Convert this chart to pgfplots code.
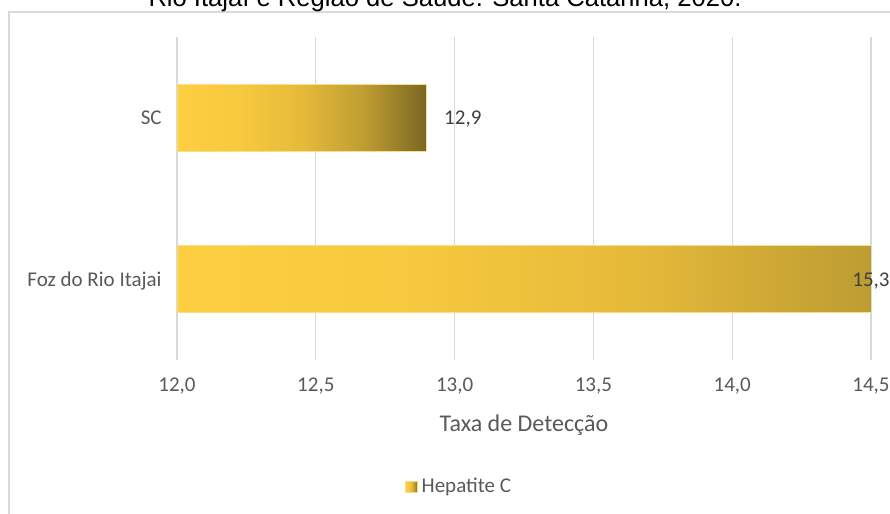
\documentclass[border=0pt]{standalone}
\usepackage{pgfplots}
\pgfplotsset{compat=1.18}
\usepackage{fontspec}
\setmainfont{Carlito}
\newfontfamily\arialfont{Liberation Sans}
\definecolor{txt}{RGB}{89,89,89}
\definecolor{lab}{RGB}{64,64,64}
\definecolor{barA}{RGB}{253,206,64}
\definecolor{barB}{RGB}{247,201,62}
\definecolor{barC}{RGB}{230,186,58}
\definecolor{barD}{RGB}{190,157,50}
\definecolor{barE}{RGB}{122,102,34}
\definecolor{gridc}{RGB}{217,217,217}
\definecolor{edge}{RGB}{246,222,140}
\pgfdeclarehorizontalshading{barshade}{100bp}{color(0bp)=(barA); color(25bp)=(barA); color(37.5bp)=(barB); color(50bp)=(barC); color(62.5bp)=(barD); color(75bp)=(barE); color(100bp)=(barE)}

\begin{document}
\begin{tikzpicture}
\draw[gridc, line width=0.6pt] (4.5pt,-6pt) rectangle (452.5pt,-265pt);
\node[anchor=base, font=\arialfont\fontsize{12.8}{14}\selectfont, text=black, inner sep=0pt] at (222.5pt,-3.2pt) {Rio Itajaí e Região de Saúde. Santa Catarina, 2020.};
\begin{axis}[
  at={(88.5pt,-180pt)}, anchor=south west,
  scale only axis, width=347pt, height=161.5pt,
  xmin=12, xmax=14.5, ymin=-0.5, ymax=1.5,
  xtick={12,12.5,13,13.5,14,14.5},
  ytick={0,1},
  yticklabels={Foz do Rio Itajai, SC},
  xmajorgrids, major grid style={gridc, line width=0.6pt},
  axis line style={draw=none},
  tick style={draw=none},
  clip mode=individual,
  /pgf/number format/.cd, use comma, fixed, fixed zerofill, precision=1, 1000 sep={}, assume math mode=true,
  /pgfplots/.cd,
  ticklabel style={font=\fontsize{10.5}{12}\selectfont, text=txt},
  xticklabel style={anchor=base, inner sep=0pt, yshift=-15.8pt},
  yticklabel style={anchor=base east, inner sep=0pt, xshift=-7.5pt, yshift=-3.4pt},
  xlabel={Taxa de Detecção},
  xlabel style={at={(axis description cs:0.5,0)}, anchor=base, inner sep=0pt, yshift=-35.8pt, font=\fontsize{12}{14}\selectfont, text=txt},
  legend style={draw=none, fill=none, font=\fontsize{10.5}{12}\selectfont, text=txt,
    at={(axis description cs:0.408,-0.393)}, anchor=center, inner sep=1pt},
  legend image code/.code={\shade[shading=barshade, shading angle=0] (0pt,-2.9pt) rectangle (5.8pt,2.9pt);},
]
\addplot[xbar, bar width=33.5pt, bar shift=0pt, shade, shading=barshade, shading angle=0, draw=edge, line width=0.4pt]
  coordinates {(12.9,1)};
\addlegendentry{Hepatite C}
\addplot[xbar, bar width=33.5pt, bar shift=0pt, shade, shading=barshade, shading angle=0, draw=edge, line width=0.4pt, forget plot]
  coordinates {(15.3,0)};
\node[anchor=base west, inner sep=0pt, xshift=8.5pt, yshift=-3.4pt, text=lab, font=\fontsize{10.5}{12}\selectfont] at (axis cs:12.9,1) {12,9};
\node[anchor=base west, inner sep=0pt, xshift=-9.5pt, yshift=-3.4pt, text=lab, font=\fontsize{10.5}{12}\selectfont] at (axis cs:14.5,0) {15,3};
\end{axis}
\pgfresetboundingbox
\useasboundingbox (0pt,0pt) rectangle (445pt,-257pt);
\end{tikzpicture}
\end{document}
